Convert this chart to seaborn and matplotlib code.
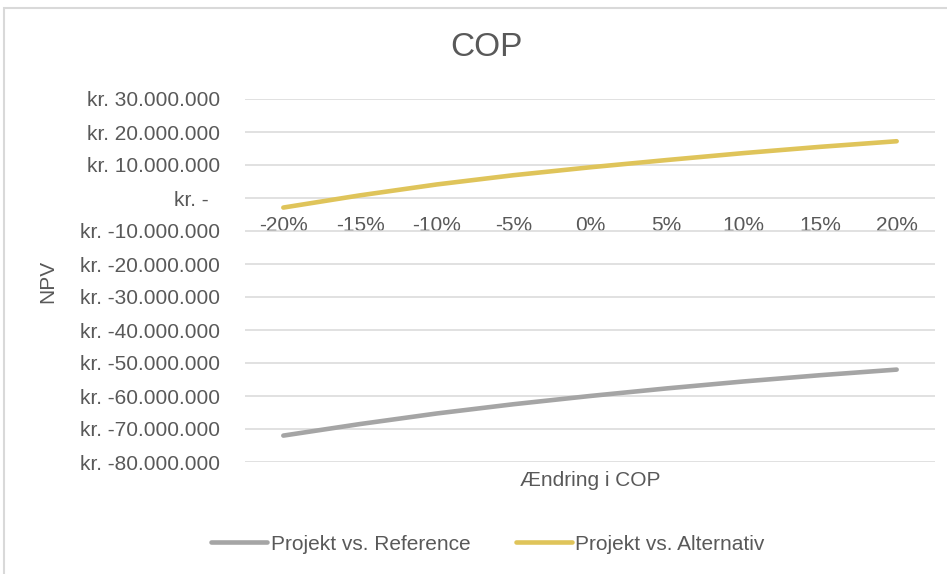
import numpy as np
import pandas as pd
import seaborn as sns
import matplotlib.pyplot as plt
from matplotlib.ticker import FuncFormatter
from matplotlib.patches import Rectangle

# values (NPV in kr.)
changes = ["-20%", "-15%", "-10%", "-5%", "0%", "5%", "10%", "15%", "20%"]
npv_reference = [-72.0e6, -68.5e6, -65.3e6, -62.5e6, -60.0e6, -57.7e6, -55.6e6, -53.7e6, -52.0e6]
npv_alternativ = [-2.9e6, 0.8e6, 4.1e6, 6.9e6, 9.3e6, 11.5e6, 13.6e6, 15.5e6, 17.2e6]
series_names = ["Projekt vs. Reference", "Projekt vs. Alternativ"]
y_ticks = np.arange(-80e6, 30e6 + 1, 10e6)

text_col = "#595959"
grid_col = "#d9d9d9"
palette = {series_names[0]: "#a5a5a5", series_names[1]: "#dfc45a"}

sns.set_theme(style="white")
plt.rcParams["font.family"] = ["Liberation Sans", "DejaVu Sans"]

df = pd.DataFrame({
    "pos": list(range(len(changes))) * 2,
    "npv": npv_reference + npv_alternativ,
    "serie": [series_names[0]] * len(changes) + [series_names[1]] * len(changes),
})

fig = plt.figure(figsize=(9.47, 5.74), dpi=100)
ax = fig.add_axes([245 / 947, 1 - 462 / 574, 690 / 947, 363 / 574])

sns.lineplot(data=df, x="pos", y="npv", hue="serie", palette=palette,
             linewidth=3.3, ax=ax, legend=False, sort=False,
             solid_capstyle="round")

ax.set_xlim(-0.5, len(changes) - 0.5)
ax.set_ylim(y_ticks[0], y_ticks[-1])
ax.set_yticks(y_ticks)
ax.set_xticks(range(len(changes)))
ax.set_xticklabels(changes)


def kr(v, pos):
    if abs(v) < 1:
        return "kr. -  "
    return "kr. " + f"{v:,.0f}".replace(",", ".")


ax.yaxis.set_major_formatter(FuncFormatter(kr))
ax.yaxis.grid(True, color=grid_col, linewidth=1.1)
ax.xaxis.grid(False)
ax.set_axisbelow(True)
for s in ax.spines.values():
    s.set_visible(False)
ax.spines["bottom"].set_position(("data", 0))
ax.tick_params(axis="y", length=0, pad=18, labelsize=15, labelcolor=text_col)
ax.tick_params(axis="x", length=0, pad=13, labelsize=15, labelcolor=text_col)
ax.set_xlabel("")
ax.set_ylabel("")

fig.text(486 / 947, 1 - 48 / 574, "COP", fontsize=24, color=text_col,
         ha="center", va="center")
fig.text(48 / 947, 1 - 281 / 574, "NPV", fontsize=15, color=text_col,
         rotation=90, ha="center", va="center")
fig.text(590 / 947, 1 - 481 / 574, "Ændring i COP", fontsize=15, color=text_col,
         ha="center", va="center")

handles = [plt.Line2D([], [], color=palette[n], linewidth=3.3, solid_capstyle="round")
           for n in series_names]
fig.legend(handles, series_names, loc="center", bbox_to_anchor=(488 / 947, 1 - 544 / 574),
           ncol=2, frameon=False, fontsize=15, labelcolor=text_col,
           handlelength=2.7, handletextpad=0.15, columnspacing=2.2)

# light chart-area border, cut off at the right and bottom like the reference
fig.patches.append(Rectangle((4 / 947, -0.1), 1.2, 1 - 8 / 574 + 0.1,
                             transform=fig.transFigure, fill=False,
                             edgecolor=grid_col, linewidth=1.5))

fig.savefig("out.png", dpi=100)
